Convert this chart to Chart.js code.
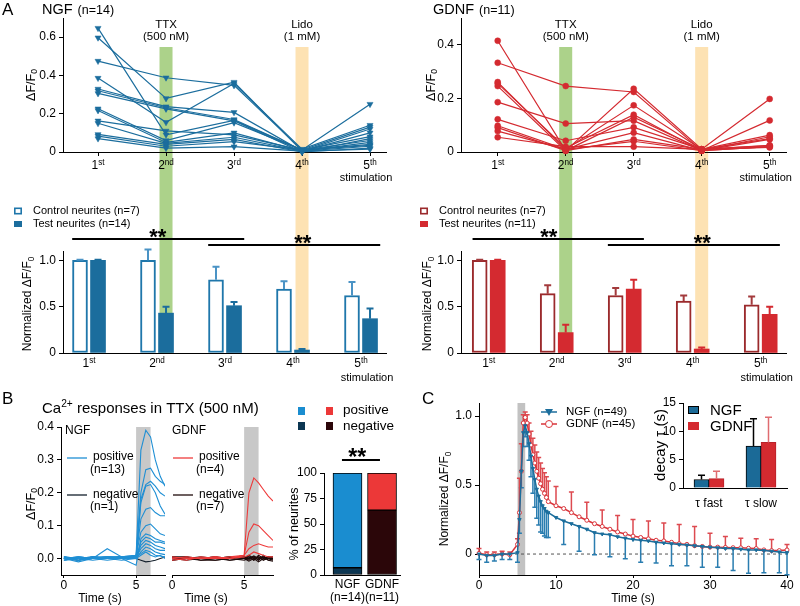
<!DOCTYPE html>
<html>
<head>
<meta charset="utf-8">
<title>Neurite Ca2+ responses</title>
<script src="https://cdn.jsdelivr.net/npm/chart.js@4.4.1/dist/chart.umd.min.js"></script>
<style>
  html, body { margin: 0; padding: 0; background: #fff; }
  #fig { position: relative; width: 800px; height: 606px; overflow: hidden; background: #fff; }
  #fig canvas { position: absolute; left: 0; top: 0; }
</style>
</head>
<body>
<div id="fig">
  <canvas id="ngfLine" width="800" height="606"></canvas>
  <canvas id="ngfBar" width="800" height="606"></canvas>
  <canvas id="gdnfLine" width="800" height="606"></canvas>
  <canvas id="gdnfBar" width="800" height="606"></canvas>
  <canvas id="ttxNgf" width="800" height="606"></canvas>
  <canvas id="ttxGdnf" width="800" height="606"></canvas>
  <canvas id="ttxPct" width="800" height="606"></canvas>
  <canvas id="decay" width="800" height="606"></canvas>
  <canvas id="decayTau" width="800" height="606"></canvas>
</div>
<script>
const FONT = "'Liberation Sans', Arial, Helvetica, sans-serif";

// ---- panel A: single neurites, dF/F0 at each stimulation
const stimLabels = ['1st', '2nd', '3rd', '4th', '5th'];
const stimX = [1, 2, 3, 4, 5];
const drugStim = [2, 4];
const drugNames = ['TTX', 'Lido'];
const drugDoses = ['(500 nM)', '(1 mM)'];

const ngfResponses = [
  [0.647, 0.09, 0.165, 0.01, 0.13],
  [0.597, 0.28, 0.365, 0.005, 0.12],
  [0.475, 0.388, 0.348, 0.01, 0.25],
  [0.386, 0.155, 0.358, 0.015, 0.14],
  [0.329, 0.237, 0.207, 0.005, 0.1],
  [0.32, 0.231, 0.17, 0.01, 0.08],
  [0.306, 0.225, 0.163, 0.0, 0.07],
  [0.226, 0.06, 0.153, 0.01, 0.06],
  [0.217, 0.05, 0.1, 0.005, 0.05],
  [0.163, 0.11, 0.089, 0.01, 0.04],
  [0.15, 0.045, 0.077, 0.005, 0.03],
  [0.092, 0.04, 0.066, 0.0, 0.02],
  [0.083, 0.03, 0.054, 0.01, 0.035],
  [0.07, 0.02, 0.028, 0.005, 0.015]
];
const gdnfResponses = [
  [0.415, 0.005, 0.236, 0.01, 0.198],
  [0.333, 0.246, 0.224, 0.005, 0.118],
  [0.261, 0.01, 0.174, 0.01, 0.063],
  [0.256, 0.015, 0.139, 0.005, 0.057],
  [0.246, 0.005, 0.13, 0.01, 0.05],
  [0.186, 0.106, 0.117, 0.005, 0.047],
  [0.122, 0.042, 0.092, 0.01, 0.024],
  [0.098, 0.01, 0.072, 0.005, 0.02],
  [0.091, 0.005, 0.047, 0.01, 0.017],
  [0.078, 0.01, 0.04, 0.005, 0.02],
  [0.055, 0.02, 0.02, 0.01, 0.025]
];

// ---- panel A: normalized mean + SEM
const ngfLegend = ['Control neurites (n=7)', 'Test neurites (n=14)'];
const ngfControlMean = [1.0, 1.0, 0.79, 0.69, 0.62];
const ngfControlSem = [0.005, 0.115, 0.14, 0.085, 0.145];
const ngfTestMean = [1.0, 0.43, 0.51, 0.032, 0.37];
const ngfTestSem = [0.005, 0.07, 0.04, 0.012, 0.11];
const gdnfLegend = ['Control neurites (n=7)', 'Test neurites (n=11)'];
const gdnfControlMean = [1.0, 0.64, 0.62, 0.56, 0.52];
const gdnfControlSem = [0.005, 0.09, 0.08, 0.06, 0.09];
const gdnfTestMean = [1.0, 0.22, 0.69, 0.043, 0.417];
const gdnfTestSem = [0.005, 0.085, 0.1, 0.017, 0.083];

// ---- panel B: Ca2+ traces in TTX
const traceTime = [0, 1, 2, 3, 4, 5, 5.33, 5.67, 6, 6.33, 6.67, 7];
const ngfPositiveTraces = [
  [0.005, -0.005, 0, 0.005, 0.005, 0.01, 0.33, 0.39, 0.37, 0.3, 0.25, 0.22],
  [0, -0.01, 0, 0.03, 0.005, 0.01, 0.2, 0.27, 0.275, 0.25, 0.235, 0.225],
  [-0.005, 0, 0.005, 0, 0, 0.005, 0.18, 0.225, 0.235, 0.22, 0.2, 0.19],
  [0, 0.005, 0, 0, -0.005, 0, 0.17, 0.22, 0.225, 0.2, 0.16, 0.135],
  [0.005, 0, 0, 0.005, 0.005, 0.005, 0.12, 0.15, 0.155, 0.14, 0.13, 0.13],
  [0, -0.005, 0.005, 0, 0, 0.01, 0.08, 0.1, 0.105, 0.09, 0.075, 0.07],
  [-0.005, 0, 0, 0.005, 0, -0.02, 0.06, 0.075, 0.07, 0.06, 0.055, 0.05],
  [0, 0.005, 0, 0, 0.005, 0.005, 0.05, 0.065, 0.06, 0.05, 0.05, 0.045],
  [0.005, 0, -0.005, 0, 0, 0, 0.04, 0.055, 0.05, 0.04, 0.035, 0.03],
  [0, 0, 0.005, 0.005, 0, 0.005, 0.03, 0.045, 0.04, 0.03, 0.025, 0.025],
  [-0.005, 0.005, 0, 0, 0.005, 0, 0.02, 0.035, 0.03, 0.02, 0.015, 0.012],
  [0, 0, 0, -0.005, 0, 0.005, 0.015, 0.025, 0.02, 0.01, 0.008, 0.005],
  [0.005, -0.005, 0, 0, 0, 0, 0.01, 0.02, 0.01, 0.005, 0.01, 0]
];
const ngfNegativeTraces = [
  [0, -0.005, 0.005, 0, 0.005, 0, -0.005, -0.01, -0.008, -0.005, 0, 0.005]
];
const gdnfPositiveTraces = [
  [0, 0.005, 0, 0.005, 0, 0.01, 0.2, 0.245, 0.23, 0.21, 0.19, 0.175],
  [0.005, 0, 0, 0, 0.005, 0.01, 0.08, 0.105, 0.1, 0.085, 0.07, 0.055],
  [0, -0.005, 0.005, 0, 0, 0.01, 0.03, 0.04, 0.045, 0.04, 0.035, 0.035],
  [-0.005, 0, 0, 0.005, 0, 0.005, 0.01, 0.02, 0.015, 0.01, 0.005, 0.005]
];
const gdnfNegativeTraces = [
  [0, 0.005, -0.005, 0, 0.005, 0, 0.005, -0.005, 0.01, 0, 0.005, -0.005],
  [0.005, 0, 0, -0.005, 0, 0.005, -0.005, 0.005, -0.005, 0.005, 0, 0],
  [-0.005, 0, 0.005, 0, -0.005, 0, 0.01, 0, 0.005, -0.005, 0.005, 0.005],
  [0, -0.005, 0, 0.005, 0, -0.005, 0, 0.008, 0, 0.005, -0.005, -0.008],
  [0.005, 0.005, 0, 0, 0.005, 0, -0.008, 0, -0.01, 0, 0.005, 0],
  [0, 0, -0.005, -0.005, 0, 0.005, 0.005, -0.005, 0.005, -0.005, 0, 0.005],
  [-0.005, 0, 0, 0.005, -0.005, 0, 0, 0.005, -0.005, 0.01, -0.005, 0]
];
const ngfTraceLegend = ['positive', '(n=13)', 'negative', '(n=1)'];
const gdnfTraceLegend = ['positive', '(n=4)', 'negative', '(n=7)'];

// ---- panel B: % of neurites
const pctGroups = ['NGF', 'GDNF'];
const pctGroupN = ['(n=14)', '(n=11)'];
const pctNegative = [7.1, 63.6];
const pctPositive = [92.9, 36.4];

// ---- panel C: averaged transients
const cTime = [0, 1, 2, 3, 4, 5,
  5.25, 5.5, 5.75, 6, 6.25, 6.5, 6.75, 7, 7.25, 7.5, 7.75, 8, 8.25, 8.5, 8.75, 9,
  10, 11, 12, 13, 14, 15, 16, 17, 18, 19, 20, 21, 22, 23, 24, 25, 26, 27, 28, 29, 30,
  31, 32, 33, 34, 35, 36, 37, 38, 39, 40];
const cNgfMean = [0, -0.01, -0.01, 0, 0, 0.01,
  0.25, 0.6, 0.88, 0.93, 0.88, 0.8, 0.71, 0.62, 0.54, 0.47, 0.42, 0.38, 0.35, 0.33, 0.31, 0.3,
  0.265, 0.24, 0.22, 0.2, 0.18, 0.155, 0.145, 0.14, 0.125, 0.115, 0.105, 0.1, 0.095, 0.085, 0.08,
  0.075, 0.07, 0.065, 0.06, 0.055, 0.05, 0.045, 0.04, 0.04, 0.035, 0.03, 0.03, 0.025, 0.02, 0.015, 0.01];
const cNgfSem = [0.04, 0.05, 0.04, 0.04, 0.04, 0.07,
  0.1, 0.12, 0.1, 0.08, 0.1, 0.12, 0.15, 0.18, 0.2, 0.21, 0.21, 0.22, 0.2, 0.2, 0.19, 0.18,
  null, 0.17, null, 0.18, null, 0.16, null, 0.16, null, 0.15, null, 0.16, null, 0.15, null,
  0.16, null, 0.15, null, 0.15, null, 0.14, null, 0.16, null, 0.17, null, 0.16, null, 0.15, 0.16];
const cGdnfMean = [0.005, -0.005, -0.005, 0, -0.005, 0.07,
  0.3, 0.6, 0.95, 0.99, 0.95, 0.87, 0.79, 0.72, 0.66, 0.6, 0.55, 0.51, 0.47, 0.44, 0.41, 0.38,
  0.35, 0.33, 0.3, 0.27, 0.245, 0.22, 0.2, 0.18, 0.16, 0.145, 0.13, 0.12, 0.11, 0.1, 0.095,
  0.085, 0.075, 0.07, 0.06, 0.055, 0.05, 0.05, 0.048, 0.046, 0.045, 0.042, 0.04, 0.03, 0.025, 0.025, 0.03];
const cGdnfSem = [0.035, 0.02, 0.02, 0.02, 0.02, 0.04,
  0.25, 0.2, 0.06, 0.04, 0.06, 0.08, 0.1, 0.12, 0.13, 0.14, 0.15, 0.15, 0.15, 0.15, 0.15, 0.15,
  0.14, null, 0.15, null, 0.13, null, 0.12, null, 0.12, null, 0.12, null, 0.13, null, 0.13,
  null, 0.14, null, 0.14, null, 0.1, null, 0.08, null, 0.07, null, 0.07, null, 0.08, null, 0.04];
const cLegend = ['NGF (n=49)', 'GDNF (n=45)'];

// ---- panel C inset: decay constants
const tauLabels = ['\u03c4 fast', '\u03c4 slow'];
const tauNgf = [1.5, 7.4];
const tauNgfSem = [0.75, 4.8];
const tauGdnf = [1.65, 8.05];
const tauGdnfSem = [1.3, 4.45];

// colours
const NGF_BLUE = '#1b6d9d';
const GDNF_RED = '#d42a30';
const BAND_COLORS = ['#acd28a', '#fde2b3'];

Chart.defaults.font.family = FONT;
Chart.defaults.font.size = 12;
Chart.defaults.color = '#000';
Chart.defaults.animation = false;
Chart.defaults.responsive = false;
Chart.defaults.maintainAspectRatio = false;
Chart.defaults.events = [];
Chart.defaults.plugins.legend.display = false;
Chart.defaults.plugins.tooltip.enabled = false;

const fmt1 = v => (v === 0 ? '0' : v.toFixed(1));

// axes get a fixed size so the plot area lands at (left, top, right, bottom)
function pad(top, right) {
  return { left: 0, top: top, right: 800 - right, bottom: 0 };
}

function valueAxis(min, max, ticks, fmt, left) {
  return {
    type: 'linear', min: min, max: max, offset: false,
    afterFit: s => { s.width = left; },
    afterBuildTicks: s => { s.ticks = ticks.map(v => ({ value: v })); },
    border: { display: true, color: '#000', width: 1 },
    grid: { display: true, drawOnChartArea: false, drawTicks: true, tickLength: 4, color: '#000' },
    ticks: { font: { size: 12 }, color: '#000', padding: 3, callback: fmt }
  };
}

function timeAxis(min, max, ticks, bottom) {
  return {
    type: 'linear', min: min, max: max, offset: false,
    afterFit: s => { s.height = 606 - bottom; },
    afterBuildTicks: s => { s.ticks = ticks.map(v => ({ value: v })); },
    border: { display: true, color: '#000', width: 1 },
    grid: { display: true, drawOnChartArea: false, drawTicks: true, tickLength: 3, color: '#000', offset: false },
    ticks: { font: { size: 12 }, color: '#000', padding: 0, maxRotation: 0, autoSkip: false }
  };
}

function stimAxis(c, marks, bottom) {
  return {
    type: 'linear', min: c.xMin, max: c.xMax, offset: false,
    afterFit: s => { s.height = 606 - bottom; },
    afterBuildTicks: s => { s.ticks = stimX.map(v => ({ value: v })); },
    border: { display: true, color: '#000', width: 1 },
    grid: { display: marks, drawOnChartArea: false, drawTicks: true, tickLength: 4, color: '#000', offset: false },
    ticks: { display: false }
  };
}

function txt(ctx, s, x, y, size, align, opt) {
  opt = opt || {};
  ctx.save();
  ctx.font = (opt.bold ? 'bold ' : '') + size + 'px ' + FONT;
  ctx.fillStyle = opt.color || '#000';
  ctx.textAlign = align || 'left';
  ctx.textBaseline = 'middle';
  ctx.translate(x, y);
  if (opt.rot) ctx.rotate(opt.rot);
  ctx.fillText(s, 0, 0);
  ctx.restore();
  ctx.font = size + 'px ' + FONT;
  return ctx.measureText(s).width;
}

// text with superscript (1) / subscript (-1) parts
function rich(ctx, parts, x, y, size, align, rot) {
  ctx.save();
  ctx.translate(x, y);
  if (rot) ctx.rotate(rot);
  ctx.fillStyle = '#000';
  ctx.textBaseline = 'alphabetic';
  ctx.textAlign = 'left';
  const items = parts.map(p => {
    const s = typeof p === 'string' ? p : p[0];
    const m = typeof p === 'string' ? 0 : p[1];
    const fs = m ? size * 0.68 : size;
    ctx.font = fs + 'px ' + FONT;
    return { s: s, m: m, fs: fs, w: ctx.measureText(s).width };
  });
  const total = items.reduce((a, b) => a + b.w, 0);
  let cx = align === 'center' ? -total / 2 : (align === 'right' ? -total : 0);
  const base = size * 0.36;
  items.forEach(it => {
    ctx.font = it.fs + 'px ' + FONT;
    const dy = it.m === 1 ? -size * 0.4 : (it.m === -1 ? size * 0.22 : 0);
    ctx.fillText(it.s, cx, base + dy);
    cx += it.w;
  });
  ctx.restore();
}

function stimLabel(ctx, label, x, y) {
  rich(ctx, [label.slice(0, 1), [label.slice(1), 1]], x, y, 12, 'center');
}

function errorBars(chart, k, sem, dir, color, cap, lw) {
  const meta = chart.getDatasetMeta(k);
  const ys = chart.scales.y;
  const ctx = chart.ctx;
  const data = chart.data.datasets[k].data;
  ctx.save();
  ctx.strokeStyle = color;
  ctx.lineWidth = lw;
  meta.data.forEach((el, i) => {
    if (sem[i] == null) return;
    const v = typeof data[i] === 'object' ? data[i].y : data[i];
    const y0 = ys.getPixelForValue(v);
    const y1 = ys.getPixelForValue(v + dir * sem[i]);
    ctx.beginPath();
    ctx.moveTo(el.x, y0);
    ctx.lineTo(el.x, y1);
    ctx.moveTo(el.x - cap / 2, y1);
    ctx.lineTo(el.x + cap / 2, y1);
    ctx.stroke();
  });
  ctx.restore();
}

function grayBand(ch, from, to, color) {
  const xs = ch.scales.x, a = ch.chartArea, ctx = ch.ctx;
  const x0 = xs.getPixelForValue(from), x1 = xs.getPixelForValue(to);
  ctx.save();
  ctx.fillStyle = color;
  ctx.fillRect(x0, a.top, x1 - x0, a.bottom - a.top);
  ctx.restore();
}

function hline(ctx, x0, x1, y, color, lw) {
  ctx.save();
  ctx.strokeStyle = color;
  ctx.lineWidth = lw;
  ctx.beginPath();
  ctx.moveTo(x0, y);
  ctx.lineTo(x1, y);
  ctx.stroke();
  ctx.restore();
}

// ---------- panel A: one column per growth factor
function makeColumn(c) {
  const bar = new Chart(document.getElementById(c.barId), {
    type: 'bar',
    data: {
      datasets: [
        { data: c.ctrl.map((v, i) => ({ x: stimX[i] - 0.265, y: v })), backgroundColor: '#fff',
          borderColor: c.ctrlColor, borderWidth: 2, borderSkipped: false, barThickness: 15, grouped: false,
          sem: c.ctrlSem, semColor: c.ctrlSemColor },
        { data: c.test.map((v, i) => ({ x: stimX[i], y: v })), backgroundColor: c.color,
          borderWidth: 0, barThickness: 15, grouped: false, sem: c.testSem, semColor: c.color }
      ]
    },
    options: {
      layout: { padding: pad(251, c.right) },
      scales: { x: stimAxis(c, false, 353), y: valueAxis(0, 1.1, [0, 0.5, 1], fmt1, c.left) }
    },
    plugins: [{
      id: 'barExtras',
      afterDatasetsDraw(ch) {
        ch.data.datasets.forEach((ds, k) => errorBars(ch, k, ds.sem, 1, ds.semColor, 7, 2));
      },
      afterDraw(ch) {
        const ctx = ch.ctx, xs = ch.scales.x, ys = ch.scales.y;
        stimX.forEach((v, i) => stimLabel(ctx, stimLabels[i], xs.getPixelForValue(v - 0.1325), 363));
        txt(ctx, 'stimulation', xs.getPixelForValue(5) - 3, 378, 11, 'center');
        rich(ctx, ['Normalized \u0394F/F', ['0', -1]], c.ox + 27, 304, 12, 'center', -Math.PI / 2);
        // legend
        ctx.save();
        ctx.strokeStyle = c.ctrlColor;
        ctx.lineWidth = 1.6;
        ctx.strokeRect(c.legendX + 0.8, 208.3, 6.4, 5.4);
        ctx.fillStyle = c.color;
        ctx.fillRect(c.legendX, 221, 8, 6);
        ctx.restore();
        txt(ctx, c.legend[0], c.legendX + 19, 211, 11);
        txt(ctx, c.legend[1], c.legendX + 19, 224, 11);
        // significance
        c.sig.forEach(s => {
          const y = ys.getPixelForValue(s.y);
          hline(ctx, xs.getPixelForValue(s.from), xs.getPixelForValue(s.to), y, '#000', 2);
          txt(ctx, '**', xs.getPixelForValue(s.star), y - 1.5, 22, 'center', { bold: true });
        });
      }
    }]
  });

  new Chart(document.getElementById(c.lineId), {
    type: 'line',
    data: {
      datasets: c.responses.map(r => ({
        data: r.map((v, i) => ({ x: stimX[i], y: v })),
        borderColor: c.color, backgroundColor: c.color, borderWidth: 1.2,
        pointStyle: c.pointStyle, pointRotation: c.pointRotation, pointRadius: c.pointRadius,
        pointBorderWidth: 0.5, clip: false
      }))
    },
    options: {
      layout: { padding: pad(18, c.right) },
      scales: { x: stimAxis(c, true, 152), y: valueAxis(0, c.yMax, c.yTicks, fmt1, c.left) }
    },
    plugins: [{
      id: 'lineExtras',
      beforeDraw(ch) {
        const ctx = ch.ctx, xs = ch.scales.x;
        const bottom = bar.chartArea.bottom;
        drugStim.forEach((s, k) => {
          const x = xs.getPixelForValue(s);
          ctx.save();
          ctx.fillStyle = BAND_COLORS[k];
          ctx.fillRect(x - 6.5, 47, 13, bottom - 47);
          ctx.restore();
        });
      },
      afterDraw(ch) {
        const ctx = ch.ctx, xs = ch.scales.x;
        stimX.forEach((v, i) => stimLabel(ctx, stimLabels[i], xs.getPixelForValue(v), 165));
        txt(ctx, 'stimulation', xs.getPixelForValue(5) - 4, 178, 11, 'center');
        drugStim.forEach((s, k) => {
          const x = xs.getPixelForValue(s);
          txt(ctx, drugNames[k], x, 24.5, 11.5, 'center');
          txt(ctx, drugDoses[k], x, 37, 11.5, 'center');
        });
        rich(ctx, ['\u0394F/F', ['0', -1]], c.ox + 30, 85, 12.5, 'center', -Math.PI / 2);
        if (c.ox === 0) txt(ctx, 'A', 2, 10, 17);
        const w = txt(ctx, c.title, c.titleX, 10, 14.5);
        txt(ctx, c.titleN, c.titleX + w + 5, 11, 12.5);
      }
    }]
  });
}

makeColumn({
  ox: 0, lineId: 'ngfLine', barId: 'ngfBar', left: 63, right: 386, xMin: 0.485, xMax: 5.235,
  responses: ngfResponses, yMax: 0.7, yTicks: [0, 0.2, 0.4, 0.6],
  color: NGF_BLUE, pointStyle: 'triangle', pointRotation: 180, pointRadius: 3.5,
  ctrl: ngfControlMean, ctrlSem: ngfControlSem, test: ngfTestMean, testSem: ngfTestSem,
  ctrlColor: '#1f77ab', ctrlSemColor: '#4a93c5', legend: ngfLegend, legendX: 14,
  title: 'NGF', titleN: '(n=14)', titleX: 42,
  sig: [{ from: 0.62, to: 3.15, y: 1.23, star: 1.88 }, { from: 2.62, to: 5.15, y: 1.165, star: 4.01 }]
});
makeColumn({
  ox: 400, lineId: 'gdnfLine', barId: 'gdnfBar', left: 461, right: 786, xMin: 0.46, xMax: 5.24,
  responses: gdnfResponses, yMax: 0.5, yTicks: [0, 0.2, 0.4],
  color: GDNF_RED, pointStyle: 'circle', pointRotation: 0, pointRadius: 3,
  ctrl: gdnfControlMean, ctrlSem: gdnfControlSem, test: gdnfTestMean, testSem: gdnfTestSem,
  ctrlColor: '#9b2a2c', ctrlSemColor: '#a33a3c', legend: gdnfLegend, legendX: 420,
  title: 'GDNF', titleN: '(n=11)', titleX: 433,
  sig: [{ from: 0.63, to: 3.15, y: 1.23, star: 1.75 }, { from: 2.62, to: 5.15, y: 1.165, star: 4.01 }]
});

// ---------- panel B: traces
function traceSet(t, color) {
  return { data: t.map((v, i) => ({ x: traceTime[i], y: v })), borderColor: color, borderWidth: 1.1, pointRadius: 0 };
}

function traceLegend(ctx, x, labels, posColor, negColor) {
  hline(ctx, x, x + 20, 458, posColor, 1.3);
  txt(ctx, labels[0], x + 26, 457, 12);
  txt(ctx, labels[1], x + 23, 470, 12);
  hline(ctx, x, x + 20, 495, negColor, 1.3);
  txt(ctx, labels[2], x + 26, 495, 12);
  txt(ctx, labels[3], x + 23, 507, 12);
}

new Chart(document.getElementById('ttxNgf'), {
  type: 'line',
  data: {
    datasets: ngfPositiveTraces.map(t => traceSet(t, '#1f8fd4'))
      .concat(ngfNegativeTraces.map(t => traceSet(t, '#14202c')))
  },
  options: {
    layout: { padding: pad(427, 165) },
    scales: {
      x: timeAxis(-0.2, 7, [0, 5], 575),
      y: valueAxis(-0.05, 0.4, [0, 0.1, 0.2, 0.3, 0.4], v => v.toFixed(1), 61)
    }
  },
  plugins: [{
    id: 'ttxNgfExtras',
    beforeDraw(ch) { grayBand(ch, 5, 6, '#c8c8c8'); },
    afterDraw(ch) {
      const ctx = ch.ctx;
      txt(ctx, 'B', 2, 399, 17);
      rich(ctx, ['Ca', ['2+', 1], ' responses in TTX (500 nM)'], 42, 408, 15, 'left');
      rich(ctx, ['\u0394F/F', ['0', -1]], 30, 504, 12.5, 'center', -Math.PI / 2);
      txt(ctx, 'NGF', 65, 431, 12);
      traceLegend(ctx, 67, ngfTraceLegend, '#1f8fd4', '#14202c');
      txt(ctx, 'Time (s)', 100, 599, 12, 'center');
    }
  }]
});

new Chart(document.getElementById('ttxGdnf'), {
  type: 'line',
  data: {
    datasets: gdnfPositiveTraces.map(t => traceSet(t, '#ee3b3b'))
      .concat(gdnfNegativeTraces.map(t => traceSet(t, '#1e0a0a')))
  },
  options: {
    layout: { padding: { left: 172, top: 427, right: 800 - 273, bottom: 0 } },
    scales: {
      x: timeAxis(0, 7, [0, 5], 575),
      y: { display: false, min: -0.05, max: 0.4 }
    }
  },
  plugins: [{
    id: 'ttxGdnfExtras',
    beforeDraw(ch) { grayBand(ch, 5, 6, '#c8c8c8'); },
    afterDraw(ch) {
      const ctx = ch.ctx;
      txt(ctx, 'GDNF', 172, 431, 12);
      traceLegend(ctx, 173, gdnfTraceLegend, '#ee3b3b', '#1e0a0a');
      txt(ctx, 'Time (s)', 206, 599, 12, 'center');
    }
  }]
});

const PCT_NEG = ['#0c3652', '#2b0609'];
const PCT_POS = ['#1a8dd0', '#ec3838'];
new Chart(document.getElementById('ttxPct'), {
  type: 'bar',
  data: {
    datasets: [
      { data: pctNegative.map((v, i) => ({ x: i, y: v })), backgroundColor: PCT_NEG, borderColor: '#000',
        borderWidth: 1, borderSkipped: false, barThickness: 29 },
      { data: pctPositive.map((v, i) => ({ x: i, y: v })), backgroundColor: PCT_POS, borderColor: '#000',
        borderWidth: 1, borderSkipped: false, barThickness: 29 }
    ]
  },
  options: {
    layout: { padding: pad(473, 400) },
    scales: {
      x: Object.assign(timeAxis(-0.68, 1.52, [0, 1], 575), {
        stacked: true,
        grid: { display: false },
        ticks: { display: false }
      }),
      y: Object.assign(valueAxis(0, 100, [0, 25, 50, 75, 100], v => String(v), 324), { stacked: true })
    }
  },
  plugins: [{
    id: 'pctExtras',
    afterDraw(ch) {
      const ctx = ch.ctx, xs = ch.scales.x;
      pctGroups.forEach((g, i) => {
        const x = xs.getPixelForValue(i);
        txt(ctx, g, x, 585, 12, 'center');
        txt(ctx, pctGroupN[i], x, 598, 12, 'center');
      });
      rich(ctx, ['% of neurites'], 293, 524, 12.5, 'center', -Math.PI / 2);
      // legend squares: NGF / GDNF columns
      ctx.save();
      ctx.fillStyle = PCT_POS[0]; ctx.fillRect(298, 407, 7, 8);
      ctx.fillStyle = PCT_NEG[0]; ctx.fillRect(298, 422, 7, 8);
      ctx.fillStyle = PCT_POS[1]; ctx.fillRect(326, 407, 7, 8);
      ctx.fillStyle = PCT_NEG[1]; ctx.fillRect(326, 422, 7, 8);
      ctx.restore();
      txt(ctx, 'positive', 343, 410.5, 13.5);
      txt(ctx, 'negative', 343, 426, 13.5);
      hline(ctx, xs.getPixelForValue(-0.16), xs.getPixelForValue(0.94), 460, '#000', 2);
      txt(ctx, '**', xs.getPixelForValue(0.28), 458.5, 23, 'center', { bold: true });
    }
  }]
});

// ---------- panel C
const C_NGF = '#1c6e9c';
const C_GDNF = '#d9343a';
new Chart(document.getElementById('decay'), {
  type: 'line',
  data: {
    datasets: [
      { data: cTime.map((t, i) => ({ x: t, y: cNgfMean[i] })), borderColor: C_NGF, backgroundColor: C_NGF,
        borderWidth: 1.5, pointStyle: 'triangle', pointRotation: 180, pointRadius: 2, pointBorderWidth: 1, clip: false },
      { data: cTime.map((t, i) => ({ x: t, y: cGdnfMean[i] })), borderColor: C_GDNF, backgroundColor: '#fff',
        borderWidth: 1.5, pointStyle: 'circle', pointRadius: 2, pointBorderWidth: 1, clip: false }
    ]
  },
  options: {
    layout: { padding: pad(403, 787) },
    scales: {
      x: timeAxis(0, 40, [0, 10, 20, 30, 40], 575),
      y: valueAxis(-0.152, 1.095, [0, 0.5, 1], fmt1, 479)
    }
  },
  plugins: [{
    id: 'decayExtras',
    beforeDraw(ch) { grayBand(ch, 5, 6, '#c2c2c2'); },
    beforeDatasetsDraw(ch) {
      const ctx = ch.ctx, a = ch.chartArea, y0 = ch.scales.y.getPixelForValue(0);
      ctx.save();
      ctx.setLineDash([3, 3]);
      ctx.strokeStyle = '#555';
      ctx.lineWidth = 1;
      ctx.beginPath();
      ctx.moveTo(a.left, y0);
      ctx.lineTo(a.right, y0);
      ctx.stroke();
      ctx.restore();
      errorBars(ch, 0, cNgfSem, -1, '#2a7db0', 5, 1.5);
      errorBars(ch, 1, cGdnfSem, 1, '#dd4a50', 5, 1.5);
    },
    afterDraw(ch) {
      const ctx = ch.ctx;
      txt(ctx, 'C', 422, 399, 17);
      rich(ctx, ['Normalized \u0394F/F', ['0', -1]], 444, 499, 12, 'center', -Math.PI / 2);
      txt(ctx, 'Time (s)', 633, 599, 12, 'center');
      // legend
      hline(ctx, 541, 557, 412, C_NGF, 1.5);
      ctx.save();
      ctx.fillStyle = C_NGF;
      ctx.beginPath();
      ctx.moveTo(549 - 4, 409);
      ctx.lineTo(549 + 4, 409);
      ctx.lineTo(549, 416);
      ctx.closePath();
      ctx.fill();
      ctx.restore();
      txt(ctx, cLegend[0], 566, 412, 11.5);
      hline(ctx, 541, 557, 424, C_GDNF, 1.5);
      ctx.save();
      ctx.fillStyle = '#fff';
      ctx.strokeStyle = C_GDNF;
      ctx.lineWidth = 1;
      ctx.beginPath();
      ctx.arc(549, 424, 3.5, 0, Math.PI * 2);
      ctx.fill();
      ctx.stroke();
      ctx.restore();
      txt(ctx, cLegend[1], 566, 424, 11.5);
    }
  }]
});

new Chart(document.getElementById('decayTau'), {
  type: 'bar',
  data: {
    labels: tauLabels,
    datasets: [
      { data: tauNgf, backgroundColor: '#1b6a97', borderColor: '#000', borderWidth: 1, barThickness: 15, sem: tauNgfSem, semColor: '#000' },
      { data: tauGdnf, backgroundColor: '#d42a30', borderColor: '#b8222a', borderWidth: 1, barThickness: 15, sem: tauGdnfSem, semColor: '#e06c70' }
    ]
  },
  options: {
    layout: { padding: pad(403, 787) },
    scales: {
      x: {
        type: 'category', offset: true,
        afterFit: s => { s.height = 606 - 488; },
        border: { display: true, color: '#000', width: 1 },
        grid: { display: false },
        ticks: { font: { size: 12 }, color: '#000', padding: 0 }
      },
      y: valueAxis(0, 15, [0, 5, 10, 15], v => String(v), 683)
    }
  },
  plugins: [{
    id: 'tauExtras',
    afterDatasetsDraw(ch) {
      ch.data.datasets.forEach((ds, k) => errorBars(ch, k, ds.sem, 1, ds.semColor, 7, 1.5));
    },
    afterDraw(ch) {
      const ctx = ch.ctx;
      txt(ctx, 'decay \u03c4 (s)', 661, 445, 15, 'center', { rot: -Math.PI / 2 });
      ctx.save();
      ctx.fillStyle = '#1b6a97'; ctx.strokeStyle = '#000'; ctx.lineWidth = 1;
      ctx.fillRect(688, 406, 11, 8); ctx.strokeRect(688.5, 406.5, 10, 7);
      ctx.fillStyle = '#d42a30';
      ctx.fillRect(688, 422, 11, 8);
      ctx.restore();
      txt(ctx, 'NGF', 710, 410.5, 15);
      txt(ctx, 'GDNF', 710, 426.5, 15);
    }
  }]
});
</script>
</body>
</html>
